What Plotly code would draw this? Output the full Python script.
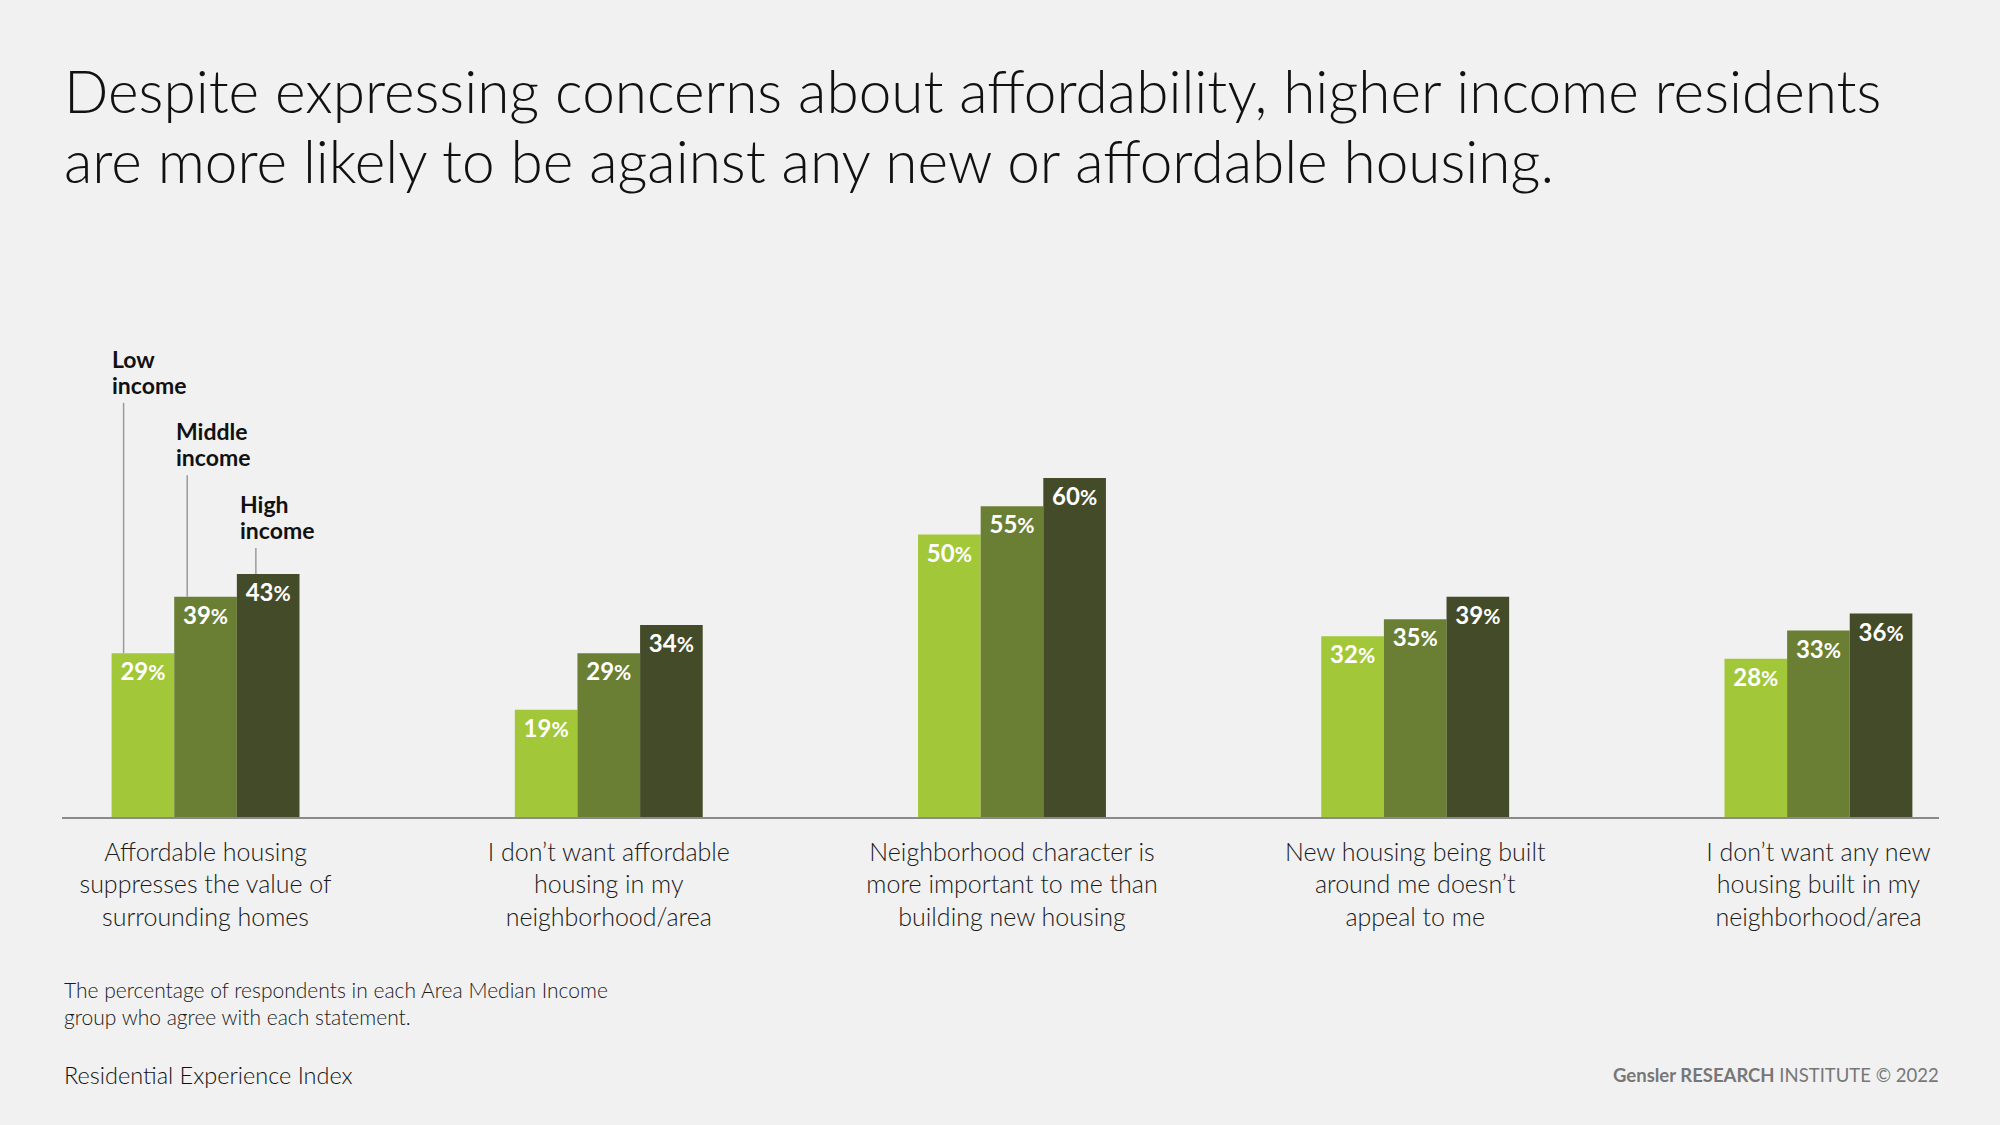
import plotly.graph_objects as go

categories = [
    "Affordable housing<br>suppresses the value of<br>surrounding homes",
    "I don’t want affordable<br>housing in my<br>neighborhood/area",
    "Neighborhood character is<br>more important to me than<br>building new housing",
    "New housing being built<br>around me doesn’t<br>appeal to me",
    "I don’t want any new<br>housing built in my<br>neighborhood/area",
]
series_names = ["Low<br>income", "Middle<br>income", "High<br>income"]
low_income = [29, 19, 50, 32, 28]
middle_income = [39, 29, 55, 35, 33]
high_income = [43, 34, 60, 39, 36]
colors = ["#A2C739", "#6A7F34", "#444B28"]

title_lines = [
    "Despite expressing concerns about affordability, higher income residents",
    "are more likely to be against any new or affordable housing.",
]
footnote = "The percentage of respondents in each Area Median Income<br>group who agree with each statement."
source = "Residential Experience Index"
credit = "<b>Gensler RESEARCH</b> INSTITUTE © 2022"

W, H = 2000, 1125
L, R, T, B = 62, 1939, 365, 817  # plot area in pixels


def px(x):
    return (x - L) / (R - L)


def py(y):
    return (B - y) / (B - T)


BODY = "Lato"
fig = go.Figure()
all_vals = [low_income, middle_income, high_income]
for name, vals, col in zip(series_names, all_vals, colors):
    fig.add_trace(go.Bar(
        x=categories, y=vals, name=name.replace("<br>", " "),
        marker=dict(color=col, line=dict(width=0)),
        text=[f"{v}<span style='font-size:21px'>%</span>" for v in vals],
        textposition="inside", insidetextanchor="end", textangle=0,
        constraintext="none",
        textfont=dict(family=BODY, size=24, color="white", weight=700),
        hoverinfo="skip",
    ))

group_w = 0.466
bar_w = group_w / 3
# legend leaders on the first group
leader_off_px = [12, 13, 19]
leader_top = [73.3, 60.5, 47.6]
text_shift = [-14, -13, -18]
shapes = []
annotations = []
for k in range(3):
    left = 0 - group_w / 2 + k * bar_w
    shapes.append(dict(type="line", xref="x", yref="y", xsizemode="pixel",
                       xanchor=left, x0=leader_off_px[k], x1=leader_off_px[k],
                       y0=all_vals[k][0], y1=leader_top[k],
                       line=dict(color="#9a9a9a", width=1.5)))
    for j, part in enumerate(reversed(series_names[k].split("<br>"))):
        annotations.append(dict(xref="x", yref="y", x=left, y=leader_top[k],
                                xanchor="left", yanchor="bottom",
                                xshift=leader_off_px[k] + text_shift[k], yshift=2 + 26 * j,
                                text=f"<b>{part}</b>", align="left",
                                showarrow=False,
                                font=dict(family=BODY, size=23, color="#111")))

# title lines
for i, (line, cy) in enumerate(zip(title_lines, [90, 160])):
    annotations.append(dict(xref="paper", yref="paper", x=px(62), y=py(cy),
                            xanchor="left", yanchor="middle", text=line,
                            showarrow=False,
                            font=dict(family=BODY, size=58.5, color="#111", weight=300)))
annotations.append(dict(xref="paper", yref="paper", x=px(62), y=py(1003),
                        xanchor="left", yanchor="middle", text=footnote, align="left",
                        showarrow=False, font=dict(family=BODY, size=21, color="#1a1a1a", weight=300)))
annotations.append(dict(xref="paper", yref="paper", x=px(62), y=py(1075),
                        xanchor="left", yanchor="middle", text=source,
                        showarrow=False, font=dict(family=BODY, size=23.5, color="#111", weight=300)))
annotations.append(dict(xref="paper", yref="paper", x=px(1941), y=py(1075),
                        xanchor="right", yanchor="middle", text=credit,
                        showarrow=False, font=dict(family=BODY, size=18.5, color="#777")))

fig.update_layout(
    width=W, height=H,
    margin=dict(l=L, r=W - R, t=T, b=H - B, autoexpand=False),
    paper_bgcolor="#F1F1F1", plot_bgcolor="#F1F1F1",
    barmode="group", bargap=1 - group_w, bargroupgap=0,
    showlegend=False,
    shapes=shapes, annotations=annotations,
    xaxis=dict(range=[-0.356, 4.299], showline=True, linecolor="#8a8a8a", linewidth=1.5,
               showgrid=False, zeroline=False, ticks="outside", ticklen=12,
               tickcolor="rgba(0,0,0,0)",
               tickfont=dict(family=BODY, size=25, color="#1a1a1a", weight=300)),
    yaxis=dict(range=[0, 80], visible=False, showgrid=False, zeroline=False),
)

fig.write_html("out.html", config={"displayModeBar": False},
               post_script="document.body.style.margin='0';document.body.style.background='#F1F1F1';")
